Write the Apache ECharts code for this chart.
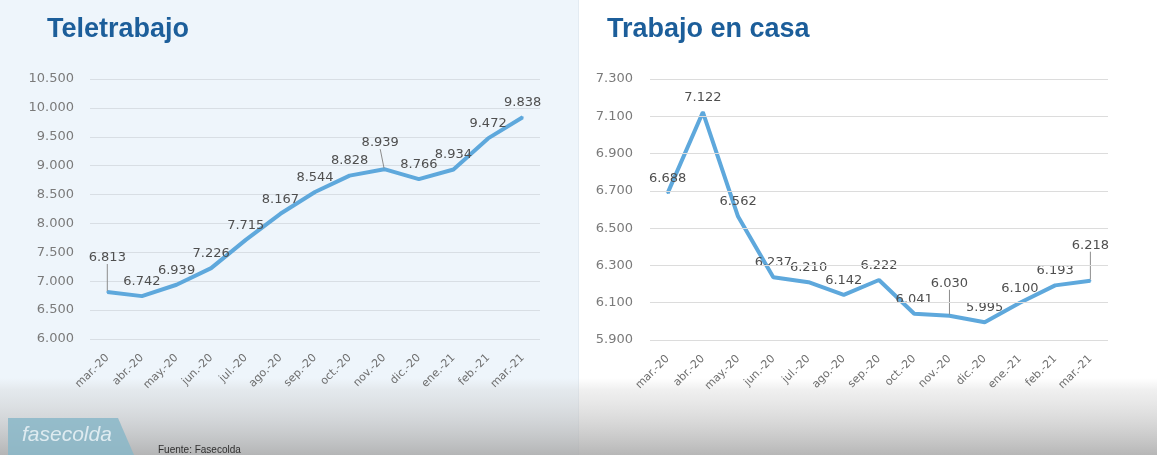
<!DOCTYPE html>
<html>
<head>
<meta charset="utf-8">
<script src="https://cdn.jsdelivr.net/npm/echarts@6/dist/echarts.min.js"></script>
<style>
  html, body { margin: 0; padding: 0; background: #ffffff; }
  #chart { width: 1157px; height: 455px; }
</style>
</head>
<body>
<div id="chart"></div>
<script>
// Monthly categories shared by both panels
const months = ['mar.-20', 'abr.-20', 'may.-20', 'jun.-20', 'jul.-20', 'ago.-20', 'sep.-20',
                'oct.-20', 'nov.-20', 'dic.-20', 'ene.-21', 'feb.-21', 'mar.-21'];

// Teletrabajo (left panel)
const teletrabajo = [6813, 6742, 6939, 7226, 7715, 8167, 8544, 8828, 8939, 8766, 8934, 9472, 9838];

// Trabajo en casa (right panel)
const trabajoEnCasa = [6688, 7122, 6562, 6237, 6210, 6142, 6222, 6041, 6030, 5995, 6100, 6193, 6218];

// Horizontal gridline values for the right panel (odd hundreds)
const casaGridValues = [5900, 6100, 6300, 6500, 6700, 6900, 7100, 7300];

const titles = ['Teletrabajo', 'Trabajo en casa'];
const sourceNote = 'Fuente: Fasecolda';
const logoText = 'fasecolda';

// Labels lifted higher with a leader line: {index: [dx, dy]}
const teleLifted = { 0: [0, -20], 8: [-4, -12] };
const casaLifted = { 8: [0, -18], 12: [0, -21] };

const fmt = v => String(v).replace(/\B(?=(\d{3})+(?!\d))/g, '.');

const lineColor = '#5ea8dc';
const labelFont = 'DejaVu Sans';

function seriesData(values, lifted) {
  return values.map((v, i) => lifted[i] ? { value: v, labelLine: { show: true } } : v);
}

function lineSeries(values, lifted, axisIndex) {
  return {
    type: 'line',
    xAxisIndex: axisIndex,
    yAxisIndex: axisIndex,
    data: seriesData(values, lifted),
    symbol: 'circle',
    symbolSize: 2,
    showSymbol: true,
    lineStyle: { color: lineColor, width: 4 },
    itemStyle: { color: lineColor },
    label: {
      show: true,
      position: 'top',
      distance: 7,
      formatter: p => fmt(p.value),
      fontFamily: labelFont,
      fontSize: 13,
      color: '#4f4f4f'
    },
    labelLine: { show: false, lineStyle: { color: '#8c8c8c', width: 1 } },
    labelLayout: p => {
      const off = lifted[p.dataIndex];
      return off ? { dx: off[0], dy: off[1] } : {};
    },
    emphasis: { disabled: true },
    animation: false,
    z: 3
  };
}

const xAxisCommon = {
  type: 'category',
  data: months,
  boundaryGap: true,
  axisLine: { show: false },
  axisTick: { show: false },
  axisLabel: {
    interval: 0,
    rotate: 45,
    margin: 17,
    fontFamily: labelFont,
    fontSize: 11,
    color: '#6e6e6e'
  }
};

const chart = echarts.init(document.getElementById('chart'), null, { renderer: 'canvas' });

chart.setOption({
  backgroundColor: '#ffffff',
  animation: false,
  title: [
    {
      text: titles[0], left: 42, top: 11,
      textStyle: { fontFamily: 'Liberation Sans', fontWeight: 'bold', fontSize: 27, color: '#1c5e9a' }
    },
    {
      text: titles[1], left: 602, top: 11,
      textStyle: { fontFamily: 'Liberation Sans', fontWeight: 'bold', fontSize: 27, color: '#1c5e9a' }
    }
  ],
  graphic: [
    // Panel backgrounds
    { type: 'rect', z: -10, shape: { x: 0, y: 0, width: 578, height: 455 }, style: { fill: '#eef5fb' } },
    { type: 'rect', z: -10, shape: { x: 578, y: 0, width: 1, height: 455 }, style: { fill: '#e3ebf2' } },
    // Bottom grey band
    {
      type: 'rect', z: -9, shape: { x: 0, y: 378, width: 1157, height: 77 },
      style: {
        fill: new echarts.graphic.LinearGradient(0, 0, 0, 1, [
          { offset: 0, color: 'rgba(210,210,210,0)' },
          { offset: 0.15, color: 'rgba(205,205,205,0.3)' },
          { offset: 1, color: 'rgba(170,170,170,0.85)' }
        ])
      }
    },
    // Logo block
    {
      type: 'polygon', z: -8,
      shape: { points: [[8, 418], [118, 418], [134, 455], [8, 455]] },
      style: { fill: 'rgba(138,183,200,0.85)' }
    },
    {
      type: 'text', z: -7, left: 22, top: 425,
      style: { text: logoText, fontFamily: 'Liberation Sans', fontStyle: 'italic', fontSize: 21, fill: 'rgba(235,243,247,0.85)' }
    },
    {
      type: 'text', z: -7, left: 158, top: 445,
      style: { text: sourceNote, fontFamily: 'Liberation Sans', fontSize: 10, fill: '#2f2f2f' }
    }
  ],
  grid: [
    { left: 90, right: 617, top: 79, bottom: 116, containLabel: false },
    { left: 650, right: 49, top: 79, bottom: 115, containLabel: false }
  ],
  xAxis: [
    Object.assign({ gridIndex: 0 }, xAxisCommon),
    Object.assign({ gridIndex: 1 }, xAxisCommon)
  ],
  yAxis: [
    {
      gridIndex: 0, type: 'value', min: 6000, max: 10500, interval: 500,
      axisLine: { show: false }, axisTick: { show: false },
      axisLabel: { margin: 16, formatter: fmt, fontFamily: labelFont, fontSize: 13, color: '#7a7a7a' },
      splitLine: { show: true, lineStyle: { color: '#d8dee4', width: 1 } }
    },
    {
      gridIndex: 1, type: 'value', min: 5900, max: 7300, interval: 100,
      axisLine: { show: false }, axisTick: { show: false },
      axisLabel: {
        margin: 17, fontFamily: labelFont, fontSize: 13, color: '#7a7a7a',
        formatter: v => (v % 200 === 100 ? fmt(v) : '')
      },
      splitLine: { show: false }
    }
  ],
  series: [
    lineSeries(teletrabajo, teleLifted, 0),
    Object.assign(lineSeries(trabajoEnCasa, casaLifted, 1), {
      markLine: {
        silent: true,
        symbol: 'none',
        label: { show: false },
        animation: false,
        lineStyle: { color: '#dcdcdc', width: 1, type: 'solid' },
        data: casaGridValues.map(v => ({ yAxis: v }))
      }
    })
  ]
});
</script>
</body>
</html>
